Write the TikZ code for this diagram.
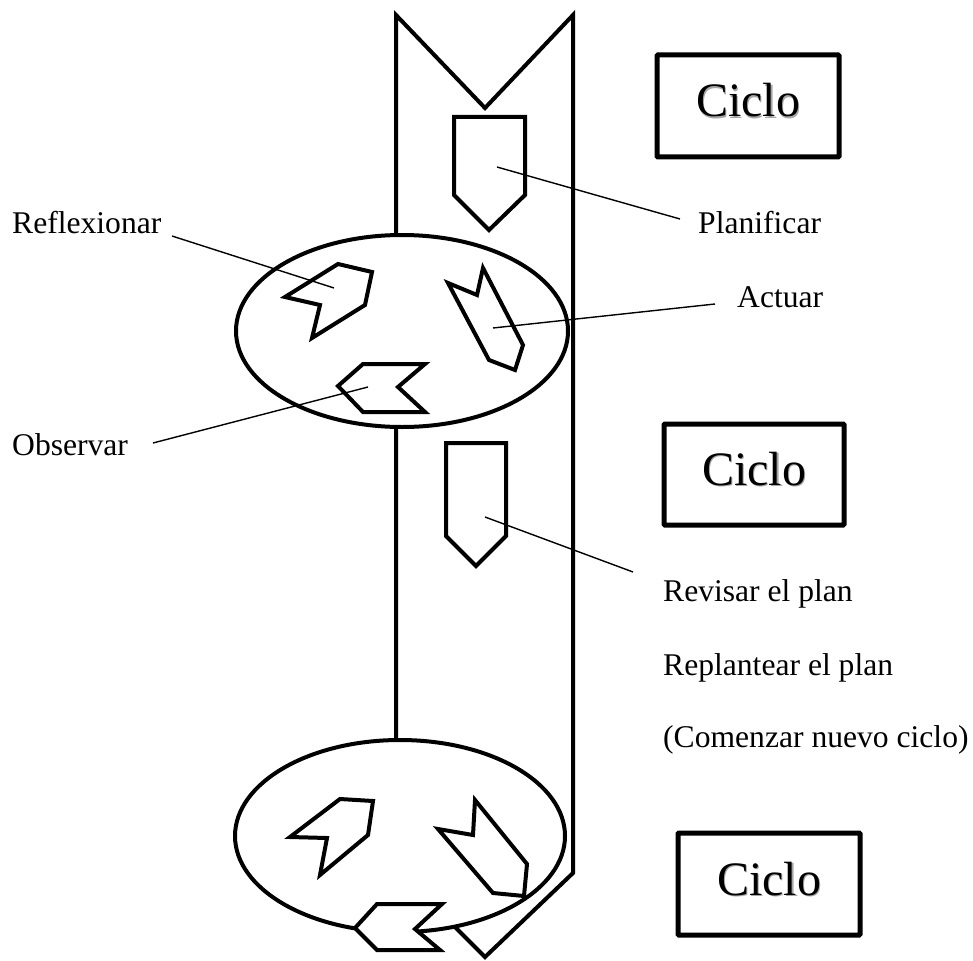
\documentclass[tikz,border=0pt]{standalone}
\usepackage{fontspec}
\setmainfont{Liberation Serif}
\begin{document}
\begin{tikzpicture}[x=1pt,y=-1pt,
  bandline/.style={line width=4pt},
  ring/.style={line width=4pt, fill=white},
  shapearrow/.style={line width=4pt, fill=white},
  leader/.style={line width=1.4pt},
  lbl/.style={anchor=base west, inner sep=0pt, font=\fontsize{31.6}{36}\selectfont},
  cyclebox/.style={line width=5pt, rounded corners=1pt},
  cycletext/.style={anchor=base, inner sep=0pt, font=\fontsize{48}{54}\selectfont},
  cycleshadow/.style={cycletext, text=black!35}]
\useasboundingbox (0,0) rectangle (973,960);
% band
\draw[bandline] (396,15) -- (485,108) -- (573,15) -- (573,873) -- (485,957) -- (396,868) -- cycle;
% ellipses
\draw[ring] (402,331) ellipse [x radius=166, y radius=96];
\draw[ring] (400,836) ellipse [x radius=165, y radius=96];
% upper ellipse arrows
\draw[shapearrow] (285,297) -- (338,264) -- (372,272) -- (365,305) -- (312,338) -- (320,305) -- cycle;
\draw[shapearrow] (448,283) -- (477,295) -- (483,268) -- (523,345) -- (515,370) -- (489,360) -- cycle;
\draw[shapearrow] (338,386) -- (363,364) -- (425,364) -- (398,387) -- (425,412) -- (363,412) -- cycle;
% lower ellipse arrows
\draw[shapearrow] (290,837) -- (340,799) -- (373,801) -- (368,835) -- (320,875) -- (327,838) -- cycle;
\draw[shapearrow] (438,829) -- (473,835) -- (475,800) -- (527,864) -- (524,896) -- (493,893) -- cycle;
\draw[shapearrow] (355,928) -- (377,904) -- (442,904) -- (415,929) -- (440,950) -- (377,950) -- cycle;
% pentagons
\draw[shapearrow] (454,117) -- (525,117) -- (525,195) -- (489,230) -- (454,195) -- cycle;
\draw[shapearrow] (446,443) -- (506,443) -- (506,536) -- (476,566) -- (446,536) -- cycle;
% anchor points inside shapes
\coordinate (pPlan) at (497,167);
\coordinate (pAct) at (493,328);
\coordinate (pRef) at (334,288);
\coordinate (pObs) at (368,387);
\coordinate (pRev) at (485,517);
% leader ends
\coordinate (ePlan) at (680,219);
\coordinate (eAct) at (715,304);
\coordinate (eRef) at (172,236);
\coordinate (eObs) at (153,443);
\coordinate (eRev) at (633,572);
% labels
\node[lbl] (lPlan) at (698,233) {Planificar};
\node[lbl] (lAct) at (737,307) {Actuar};
\node[lbl] (lRef) at (12,233) {Reflexionar};
\node[lbl] (lObs) at (12,455) {Observar};
\node[lbl] (lRev1) at (663,601) {Revisar el plan};
\node[lbl] (lRev2) at (663,675) {Replantear el plan};
\node[lbl] (lRev3) at (663,747) {(Comenzar nuevo ciclo)};
% leaders
\draw[leader] (pPlan) -- (ePlan);
\draw[leader] (pAct) -- (eAct);
\draw[leader] (pRef) -- (eRef);
\draw[leader] (pObs) -- (eObs);
\draw[leader] (pRev) -- (eRev);
% cycle boxes
\draw[cyclebox] (657,55) rectangle (839,157);
\draw[cyclebox] (664,424) rectangle (844,525);
\draw[cyclebox] (678,833) rectangle (860,935);
\node[cycleshadow] at (749.5,118.5) {Ciclo};
\node[cycletext] (c1) at (748,117) {Ciclo};
\node[cycleshadow] at (755.5,486.5) {Ciclo};
\node[cycletext] (c2) at (754,485) {Ciclo};
\node[cycleshadow] at (770.5,896.5) {Ciclo};
\node[cycletext] (c3) at (769,895) {Ciclo};
\end{tikzpicture}
\end{document}
